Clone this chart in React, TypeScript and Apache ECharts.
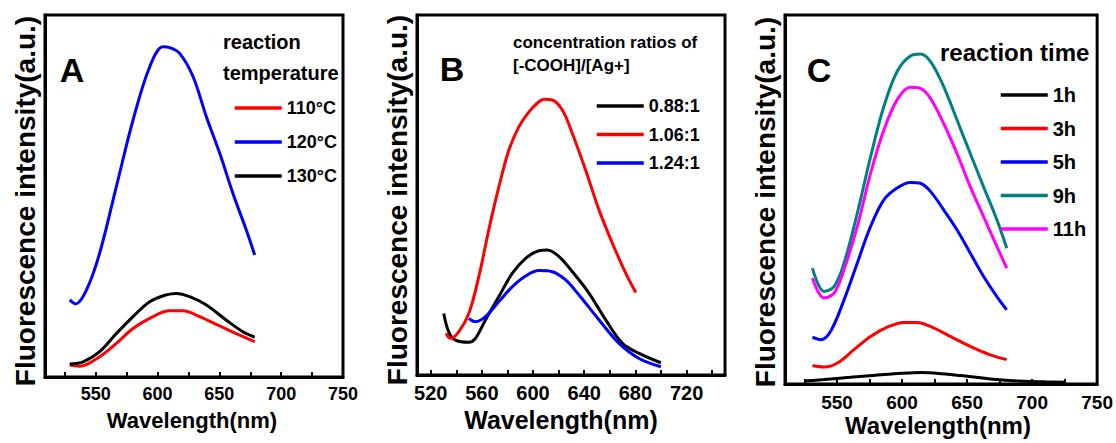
import React, { useEffect, useRef } from "react";
import * as echarts from "echarts";

const FONT = '"Liberation Sans", Arial, sans-serif';

// ---------- Panel A : reaction temperature ----------
const aNames = ["110°C", "120°C", "130°C"];
const aWave110 = [529, 537, 553.2, 566.7, 580.2, 593.7, 609.8, 620.6, 634.1, 650.3, 666.4, 678.6];
const aInt110 = [3.3, 3.0, 5.6, 9.3, 13.4, 16.2, 18.3, 18.3, 16.7, 14.1, 11.6, 9.8];
const aWave120 = [529, 533.8, 542.5, 553.2, 566.7, 580.2, 593.7, 604.4, 609.8, 617.9, 628.7, 639.5, 650.3, 661, 671.8, 678.6];
const aInt120 = [21.3, 20.2, 24, 34.2, 52.6, 71, 85.7, 91.2, 91, 89.4, 83, 71.9, 61.8, 50.7, 40.6, 33.7];
const aWave130 = [529, 539.8, 553.2, 566.7, 580.2, 593.7, 607.1, 615.2, 626, 639.5, 655.7, 669.1, 678.6];
const aInt130 = [3.6, 4.2, 7, 12, 16.7, 20.8, 22.7, 23.1, 22.2, 19.9, 15.7, 12.5, 11];
const aTicks = [525, 550, 575, 600, 625, 650, 675, 700, 725];
const aLabels = [550, 600, 650, 700, 750];

// ---------- Panel B : [-COOH]/[Ag+] ratios ----------
const bNames = ["0.88:1", "1.06:1", "1.24:1"];
const bWave088 = [530.2, 534.1, 539.3, 549.8, 555, 562.8, 573.3, 583.7, 594.2, 604.6, 611.1, 620.3, 630.7, 643.8, 656.8, 669.9, 682.9, 699.9];
const bInt088 = [17.1, 12, 9.7, 9.1, 10.2, 15.3, 21.8, 28.2, 32.4, 34.5, 34.7, 32.9, 28.7, 22.7, 15.3, 8.8, 6, 3.4];
const bWave106 = [532, 535.4, 541.9, 549.8, 557.6, 565.4, 573.3, 581.1, 589, 596.8, 604.6, 608.5, 615, 622.9, 630.7, 641.1, 651.6, 662, 672.5, 680.3];
const bInt106 = [11.6, 10.2, 12, 17.1, 27.3, 40.3, 52.3, 62.5, 69, 73.1, 75.9, 76.6, 76.4, 73.6, 67.1, 56.9, 45.8, 36.6, 28.2, 22.9];
const bWave124 = [549.8, 555, 562.8, 573.3, 583.7, 594.2, 604.6, 615, 625.5, 635.9, 651.6, 667.2, 682.9, 699.9];
const bInt124 = [15.7, 14.8, 16.2, 20.4, 24.5, 27.5, 29, 28.7, 26.4, 22.2, 15.3, 8.8, 4.6, 2.3];
const bTicks = [520, 540, 560, 580, 600, 620, 640, 660, 680, 700, 720, 740];
const bLabels = [520, 560, 600, 640, 680, 720];

// ---------- Panel C : reaction time ----------
const cNames = ["1h", "3h", "5h", "9h", "11h"];
const cWave1 = [525, 540, 560, 580, 600, 615, 630, 650, 670, 690, 710, 726];
const cInt1 = [0.8, 1.2, 1.8, 2.4, 2.9, 3.1, 2.8, 2.1, 1.3, 0.8, 0.6, 0.5];
const cWave3 = [531.1, 540, 550.3, 563, 575.8, 588.6, 601.3, 611.6, 621.8, 637.1, 652.4, 667.8, 680.5];
const cInt3 = [5, 4.6, 5.7, 9.3, 12.9, 15.4, 16.7, 16.7, 15.6, 12.9, 10.2, 7.9, 6.6];
const cWave5 = [531.1, 537.5, 545.1, 555.4, 565.6, 575.8, 586, 596.2, 606.4, 614.1, 621.8, 632, 642.2, 652.4, 662.6, 672.9, 680.5];
const cInt5 = [12.7, 12, 14.3, 22.8, 32.8, 42.7, 49.9, 53.1, 54.6, 54.4, 52.2, 47.2, 41.8, 35.5, 29.2, 23.7, 20.1];
const cWave9 = [531.1, 540, 547.7, 555.4, 565.6, 575.8, 586, 596.2, 606.4, 614.1, 621.8, 632, 642.2, 652.4, 662.6, 672.9, 680.5];
const cInt9 = [31.4, 25.1, 26.4, 32.8, 46.3, 61.6, 75.2, 84.7, 88.9, 89.4, 87.4, 80.6, 71.6, 62.5, 53.5, 44.5, 36.8];
const cWave11 = [531.1, 540, 547.7, 555.4, 565.6, 575.8, 586, 596.2, 606.4, 614.1, 621.8, 632, 642.2, 652.4, 662.6, 672.9, 680.5];
const cInt11 = [28.7, 23.3, 24.6, 31, 42.7, 57.1, 68.8, 77, 80.4, 80.1, 77.4, 70.6, 62.5, 53.5, 45.4, 37.3, 31.4];
const cTicks = [525, 550, 575, 600, 625, 650, 675, 700, 725];
const cLabels = [550, 600, 650, 700, 750];

const zip = (xs: number[], ys: number[]) => xs.map((x, i) => [x, ys[i]]);

const grids = [
  { left: 45, top: 15, width: 298, height: 362 },
  { left: 417, top: 15, width: 308, height: 360 },
  { left: 785, top: 15, width: 313, height: 369 },
];

function xAxisFor(idx: number, min: number, ticks: number[], labels: number[], fs: number, margin: number) {
  return {
    type: "value",
    gridIndex: idx,
    min,
    max: 750,
    splitLine: { show: false },
    axisLine: { show: true, onZero: false, lineStyle: { color: "#000", width: 3 } },
    axisTick: { show: true, inside: true, length: 5, customValues: ticks, lineStyle: { color: "#000", width: 2 } },
    axisLabel: {
      show: true,
      customValues: labels,
      margin,
      color: "#000",
      fontFamily: FONT,
      fontWeight: "bold",
      fontSize: fs,
    },
  };
}

function yAxisFor(idx: number) {
  return {
    type: "value",
    gridIndex: idx,
    min: 0,
    max: 100,
    splitLine: { show: false },
    axisLine: { show: true, lineStyle: { color: "#000", width: 3 } },
    axisTick: { show: false },
    axisLabel: { show: false },
  };
}

function line(name: string, idx: number, data: number[][], color: string) {
  return {
    type: "line",
    name,
    xAxisIndex: idx,
    yAxisIndex: idx,
    data,
    smooth: 0.35,
    symbol: "none",
    showSymbol: false,
    lineStyle: { color, width: 3 },
    itemStyle: { color },
    color,
  };
}

function legendFor(names: string[], left: number, top: number, gap: number, fs: number) {
  return {
    data: names,
    orient: "vertical",
    left,
    top,
    itemWidth: 47,
    itemHeight: 14,
    itemGap: gap,
    selectedMode: false,
    padding: 0,
    itemStyle: { opacity: 0 },
    lineStyle: { width: 3.5 },
    textStyle: { color: "#000", fontFamily: FONT, fontWeight: "bold", fontSize: fs },
  };
}

function txt(text: string, x: number, y: number, fs: number, align = "left", rotation = 0) {
  return {
    type: "text",
    x,
    y,
    rotation,
    style: {
      text,
      fill: "#000",
      font: `bold ${fs}px ${FONT}`,
      fontFamily: FONT,
      fontWeight: "bold",
      fontSize: fs,
      textAlign: align,
      align,
      textVerticalAlign: "middle",
      verticalAlign: "middle",
    },
  };
}

export default function App() {
  const ref = useRef<HTMLDivElement>(null);
  useEffect(() => {
    if (!ref.current) return;
    const chart = echarts.init(ref.current, null, { renderer: "svg" });
    chart.setOption({
      animation: false,
      backgroundColor: "#fff",
      grid: grids.map((g) => ({ ...g, show: true, borderColor: "#000", borderWidth: 3, backgroundColor: "transparent" })),
      xAxis: [
        xAxisFor(0, 509, aTicks, aLabels, 18, 8),
        xAxisFor(1, 509.3, bTicks, bLabels, 20, 8),
        xAxisFor(2, 510, cTicks, cLabels, 19, 9),
      ],
      yAxis: [yAxisFor(0), yAxisFor(1), yAxisFor(2)],
      legend: [
        legendFor(aNames, 233, 99, 16, 18),
        legendFor(bNames, 595, 97, 10.5, 18),
        legendFor(cNames, 999, 85, 13.5, 20),
      ],
      series: [
        line("110°C", 0, zip(aWave110, aInt110), "#ff0000"),
        line("120°C", 0, zip(aWave120, aInt120), "#0000ff"),
        line("130°C", 0, zip(aWave130, aInt130), "#000000"),
        line("0.88:1", 1, zip(bWave088, bInt088), "#000000"),
        line("1.06:1", 1, zip(bWave106, bInt106), "#ff0000"),
        line("1.24:1", 1, zip(bWave124, bInt124), "#0000ff"),
        line("1h", 2, zip(cWave1, cInt1), "#000000"),
        line("3h", 2, zip(cWave3, cInt3), "#ff0000"),
        line("5h", 2, zip(cWave5, cInt5), "#0000ff"),
        line("9h", 2, zip(cWave9, cInt9), "#008080"),
        line("11h", 2, zip(cWave11, cInt11), "#ff00ff"),
      ],
      graphic: [
        txt("A", 72, 70, 34, "center"),
        txt("B", 452, 69, 34, "center"),
        txt("C", 819, 70, 34, "center"),
        txt("reaction", 223, 42, 20),
        txt("temperature", 223, 73, 20),
        txt("concentration ratios of", 513, 42, 17),
        txt("[-COOH]/[Ag+]", 513, 65, 17),
        txt("reaction time", 940, 52, 24),
        txt("Fluorescence intensity(a.u.)", 25, 201, 28, "center", Math.PI / 2),
        txt("Fluorescence intensity(a.u.)", 397, 200, 28, "center", Math.PI / 2),
        txt("Fluorescence intensity(a.u.)", 765, 202, 28, "center", Math.PI / 2),
        txt("Wavelength(nm)", 192, 420, 22, "center"),
        txt("Wavelength(nm)", 561, 420, 25, "center"),
        txt("Wavelength(nm)", 938, 425, 24, "center"),
      ],
    });
    return () => chart.dispose();
  }, []);
  return <div ref={ref} style={{ position: "absolute", left: 0, top: 0, width: 1116, height: 443 }} />;
}
